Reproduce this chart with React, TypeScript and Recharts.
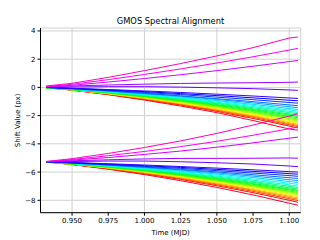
import React from "react";
import {
  LineChart,
  Line,
  XAxis,
  YAxis,
  CartesianGrid,
} from "recharts";

// sample times (MJD) along every trace
const TIMES = [0.932, 0.95, 0.975, 1.0, 1.025, 1.05, 1.075, 1.1, 1.106];

// upper bundle, ordered red -> magenta
const UPPER = [
  [0, -0.2, -0.52, -0.9, -1.32, -1.79, -2.35, -2.95, -3.03],
  [0, -0.19, -0.5, -0.85, -1.25, -1.7, -2.2, -2.74, -2.88],
  [0, -0.18, -0.48, -0.82, -1.21, -1.64, -2.12, -2.65, -2.78],
  [0, -0.18, -0.47, -0.8, -1.17, -1.6, -2.06, -2.57, -2.7],
  [0, -0.17, -0.45, -0.78, -1.14, -1.55, -2.0, -2.5, -2.62],
  [0, -0.17, -0.44, -0.75, -1.11, -1.51, -1.95, -2.43, -2.55],
  [0, -0.16, -0.43, -0.73, -1.07, -1.46, -1.89, -2.35, -2.47],
  [0, -0.16, -0.42, -0.71, -1.04, -1.42, -1.83, -2.29, -2.4],
  [-0.05, -0.17, -0.41, -0.69, -1.01, -1.37, -1.77, -2.21, -2.32],
  [-0.05, -0.17, -0.4, -0.66, -0.97, -1.32, -1.71, -2.13, -2.24],
  [-0.05, -0.16, -0.38, -0.64, -0.93, -1.27, -1.64, -2.05, -2.15],
  [-0.03, -0.15, -0.36, -0.61, -0.89, -1.22, -1.57, -1.96, -2.06],
  [0, -0.13, -0.34, -0.58, -0.85, -1.16, -1.51, -1.88, -1.97],
  [0, -0.12, -0.33, -0.56, -0.82, -1.11, -1.44, -1.79, -1.88],
  [0, -0.12, -0.31, -0.53, -0.77, -1.05, -1.36, -1.7, -1.78],
  [0, -0.11, -0.29, -0.5, -0.73, -0.99, -1.28, -1.6, -1.68],
  [0, -0.1, -0.27, -0.46, -0.68, -0.93, -1.2, -1.5, -1.57],
  [0, -0.1, -0.25, -0.43, -0.62, -0.85, -1.1, -1.37, -1.44],
  [0, -0.1, -0.25, -0.42, -0.6, -0.8, -1.01, -1.24, -1.3],
  [0, -0.08, -0.21, -0.36, -0.51, -0.69, -0.87, -1.07, -1.12],
  [0, -0.07, -0.18, -0.3, -0.44, -0.58, -0.74, -0.91, -0.95],
  [0, -0.06, -0.15, -0.25, -0.36, -0.48, -0.61, -0.75, -0.78],
  [0, 0.03, 0.05, 0.05, 0.02, -0.03, -0.09, -0.18, -0.21],
  [0.05, 0.1, 0.17, 0.23, 0.28, 0.31, 0.33, 0.36, 0.38],
  [0.05, 0.15, 0.38, 0.63, 0.9, 1.19, 1.5, 1.83, 1.91],
  [0.05, 0.22, 0.55, 0.92, 1.31, 1.73, 2.17, 2.65, 2.77],
  [0.1, 0.29, 0.71, 1.19, 1.69, 2.23, 2.82, 3.5, 3.57],
];

// lower bundle, ordered red -> magenta
const LOWER = [
  [-5.27, -5.47, -5.8, -6.18, -6.61, -7.09, -7.62, -8.21, -8.35],
  [-5.27, -5.46, -5.77, -6.12, -6.52, -6.97, -7.46, -8.0, -8.14],
  [-5.27, -5.45, -5.75, -6.08, -6.46, -6.9, -7.37, -7.89, -8.02],
  [-5.27, -5.44, -5.73, -6.05, -6.42, -6.84, -7.29, -7.8, -7.92],
  [-5.27, -5.44, -5.71, -6.03, -6.38, -6.78, -7.23, -7.71, -7.83],
  [-5.27, -5.43, -5.7, -6.0, -6.35, -6.74, -7.16, -7.63, -7.75],
  [-5.27, -5.43, -5.69, -5.98, -6.31, -6.69, -7.1, -7.56, -7.67],
  [-5.27, -5.42, -5.67, -5.96, -6.28, -6.65, -7.05, -7.49, -7.6],
  [-5.3, -5.45, -5.67, -5.94, -6.25, -6.6, -6.99, -7.41, -7.52],
  [-5.3, -5.44, -5.66, -5.92, -6.22, -6.56, -6.94, -7.35, -7.45],
  [-5.3, -5.43, -5.64, -5.89, -6.18, -6.51, -6.87, -7.27, -7.37],
  [-5.28, -5.41, -5.62, -5.87, -6.15, -6.46, -6.81, -7.2, -7.29],
  [-5.27, -5.4, -5.6, -5.84, -6.11, -6.41, -6.74, -7.11, -7.2],
  [-5.27, -5.39, -5.59, -5.81, -6.06, -6.35, -6.67, -7.01, -7.1],
  [-5.27, -5.38, -5.57, -5.78, -6.02, -6.29, -6.58, -6.91, -6.99],
  [-5.27, -5.38, -5.55, -5.74, -5.96, -6.22, -6.49, -6.79, -6.87],
  [-5.27, -5.37, -5.52, -5.71, -5.91, -6.14, -6.39, -6.67, -6.74],
  [-5.27, -5.36, -5.5, -5.66, -5.85, -6.06, -6.29, -6.54, -6.6],
  [-5.27, -5.36, -5.5, -5.65, -5.81, -5.99, -6.19, -6.4, -6.45],
  [-5.27, -5.35, -5.47, -5.6, -5.74, -5.9, -6.07, -6.25, -6.3],
  [-5.27, -5.34, -5.44, -5.55, -5.67, -5.81, -5.95, -6.11, -6.15],
  [-5.27, -5.32, -5.41, -5.5, -5.61, -5.72, -5.84, -5.97, -6.0],
  [-5.27, -5.25, -5.22, -5.22, -5.27, -5.34, -5.43, -5.57, -5.62],
  [-5.25, -5.2, -5.13, -5.07, -5.03, -5.03, -5.02, -5.0, -5.02],
  [-5.27, -5.15, -4.97, -4.75, -4.51, -4.24, -3.93, -3.6, -3.52],
  [-5.27, -5.11, -4.84, -4.54, -4.2, -3.82, -3.39, -2.93, -2.81],
  [-5.25, -5.05, -4.68, -4.26, -3.79, -3.26, -2.67, -2.03, -1.87],
];

const X_TICKS = [0.95, 0.975, 1.0, 1.025, 1.05, 1.075, 1.1];
const Y_TICKS = [-8, -6, -4, -2, 0, 2, 4];

// matplotlib gist_rainbow stops
const RAINBOW: [number, number, number, number][] = [
  [0.0, 1, 0, 0.16],
  [0.03, 1, 0, 0],
  [0.215, 1, 1, 0],
  [0.4, 0, 1, 0],
  [0.586, 0, 1, 1],
  [0.77, 0, 0, 1],
  [0.954, 1, 0, 1],
  [1.0, 1, 0, 0.75],
];

function rainbow(p: number) {
  for (let i = 1; i < RAINBOW.length; i++) {
    const a = RAINBOW[i - 1];
    const b = RAINBOW[i];
    if (p <= b[0]) {
      const t = (p - a[0]) / (b[0] - a[0]);
      const c = [1, 2, 3].map((k) =>
        Math.round((a[k] + (b[k] - a[k]) * t) * 255)
      );
      return `rgb(${c[0]},${c[1]},${c[2]})`;
    }
  }
  return "rgb(255,0,191)";
}

const rows = TIMES.map((t, k) => {
  const row: Record<string, number> = { x: t };
  UPPER.forEach((s, i) => (row[`u${i}`] = s[k]));
  LOWER.forEach((s, i) => (row[`l${i}`] = s[k]));
  return row;
});

const FONT = "'DejaVu Sans', sans-serif";
const tickStyle = { fontSize: 7, fill: "#000", fontFamily: FONT };
const fmtY = (v: number) => String(v).replace("-", "\u2212");

export default function App() {
  const n = UPPER.length;
  return (
    <div style={{ position: "relative", width: 320, height: 240, background: "#fff" }}>
      <style>{`body{margin:0}`}</style>
      <div
        style={{
          position: "absolute",
          top: 16,
          left: 40,
          width: 261,
          textAlign: "center",
          fontFamily: FONT,
          fontSize: 8.3,
          color: "#000",
        }}
      >
        GMOS Spectral Alignment
      </div>
      <LineChart
        width={320}
        height={240}
        data={rows}
        margin={{ top: 28, right: 19.3, left: 0, bottom: 0 }}
      >
        <CartesianGrid stroke="#d0d0d0" strokeWidth={1} />
        <XAxis
          dataKey="x"
          type="number"
          domain={[0.9282, 1.1079]}
          allowDataOverflow
          ticks={X_TICKS}
          tickFormatter={(v: number) => v.toFixed(3)}
          tick={tickStyle}
          tickSize={3}
          tickMargin={2}
          height={27.3}
          stroke="#000"
          label={{
            value: "Time (MJD)",
            position: "insideBottom",
            offset: 5,
            style: { fontSize: 7, fill: "#000", fontFamily: FONT },
          }}
        />
        <XAxis
          xAxisId="top"
          orientation="top"
          type="number"
          domain={[0.9282, 1.1079]}
          allowDataOverflow
          tick={false}
          tickLine={false}
          height={0}
          stroke="#000"
        />
        <YAxis
          type="number"
          domain={[-8.88, 4.21]}
          allowDataOverflow
          ticks={Y_TICKS}
          tickFormatter={fmtY}
          tick={tickStyle}
          tickSize={3}
          tickMargin={2}
          width={40.5}
          stroke="#000"
          label={{
            value: "Shift Value (px)",
            angle: -90,
            position: "insideLeft",
            offset: 18,
            style: { fontSize: 7, fill: "#000", fontFamily: FONT, textAnchor: "middle" },
          }}
        />
        <YAxis
          yAxisId="right"
          orientation="right"
          type="number"
          domain={[-8.88, 4.21]}
          allowDataOverflow
          tick={false}
          tickLine={false}
          width={0}
          stroke="#000"
        />
        {UPPER.map((_, i) => (
          <Line
            key={`u${i}`}
            dataKey={`u${i}`}
            stroke={rainbow(i / (n - 1))}
            strokeWidth={1}
            dot={false}
            isAnimationActive={false}
          />
        ))}
        {LOWER.map((_, i) => (
          <Line
            key={`l${i}`}
            dataKey={`l${i}`}
            stroke={rainbow(i / (n - 1))}
            strokeWidth={1}
            dot={false}
            isAnimationActive={false}
          />
        ))}
      </LineChart>
    </div>
  );
}
